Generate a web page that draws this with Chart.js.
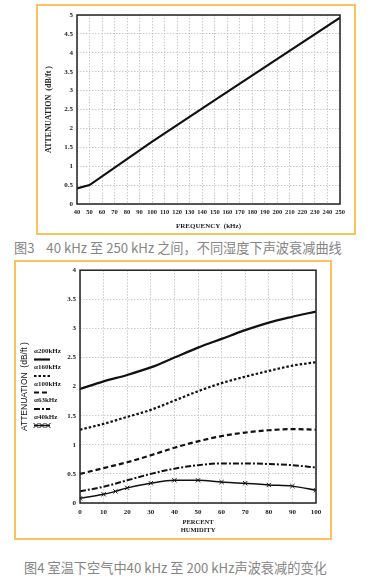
<!DOCTYPE html>
<html><head><meta charset="utf-8">
<script src="https://cdn.jsdelivr.net/npm/chart.js@4/dist/chart.umd.min.js"></script>
<style>
html,body{margin:0;padding:0;background:#fff;width:370px;height:585px;overflow:hidden;}
.box{position:absolute;border:2px solid #f8c25c;box-sizing:border-box;background:#fff;}
#box1{left:36px;top:4px;width:320px;height:231px;}
#box2{left:14px;top:260px;width:318px;height:280px;}
.cap{position:absolute;font-family:"Noto Sans CJK SC","Noto Sans";color:#858585;font-size:13.2px;line-height:16px;white-space:nowrap;}
#cap1{left:14px;top:240px;}
#cap2{left:24px;top:560px;}
canvas{position:absolute;}
#c1{left:38px;top:6px;}
#c2{left:16px;top:262px;}
</style></head>
<body>
<div class="box" id="box1"></div>
<div class="box" id="box2"></div>
<canvas id="c1" width="316" height="227"></canvas>
<canvas id="c2" width="314" height="276"></canvas>
<div class="cap" id="cap1">图3&nbsp;&nbsp;&nbsp; 40 kHz 至 250 kHz 之间，不同湿度下声波衰减曲线</div>
<div class="cap" id="cap2">图4 室温下空气中40 kHz 至 200 kHz声波衰减的变化</div>
<script>
// ---- Chart 1 data ----
const freqKHz = [40, 50, 100, 150, 200, 250];
const attenuationByFreq = [0.41, 0.5, 1.65, 2.75, 3.84, 4.93];
const freqTicks = [40,50,60,70,80,90,100,110,120,130,140,150,160,170,180,190,200,210,220,230,240,250];
const attTicks1 = [0,0.5,1,1.5,2,2.5,3,3.5,4,4.5,5];

// ---- Chart 2 data ----
const humidity = [0,10,20,30,40,50,60,70,80,90,100];
const humidity40 = [0,10,15,20,30,40,50,60,70,80,90,100];
const a200 = [1.96,2.09,2.2,2.33,2.5,2.67,2.82,2.97,3.1,3.2,3.29];
const a160 = [1.26,1.36,1.48,1.6,1.76,1.92,2.06,2.17,2.27,2.36,2.42];
const a100 = [0.5,0.6,0.7,0.82,0.95,1.06,1.15,1.21,1.25,1.27,1.26];
const a63  = [0.2,0.28,0.39,0.5,0.59,0.65,0.68,0.68,0.67,0.65,0.61];
const a40  = [0.08,0.15,0.2,0.26,0.34,0.39,0.39,0.36,0.34,0.31,0.29,0.22];
const seriesNames = ['α200kHz','α160kHz','α100kHz','α63kHz','α40kHz'];
const humidityTicks = [0,10,20,30,40,50,60,70,80,90,100];
const attTicks2 = [0,0.5,1,1.5,2,2.5,3,3.5,4];

const pts = (xs, ys) => xs.map((x,i)=>({x, y: ys[i]}));
const serif = 'Liberation Serif';
const plain = v => String(v);

const framePlugin = {
  id:'frame',
  afterDatasetsDraw(chart){
    const {ctx, chartArea:a} = chart;
    ctx.save();
    ctx.strokeStyle = '#222';
    ctx.lineWidth = 1.5;
    ctx.strokeRect(a.left, a.top, a.right-a.left, a.bottom-a.top);
    ctx.restore();
  }
};

const gridOpts = {color:'#bdbdbd', lineWidth:0.8, drawTicks:false};
const borderOpts = {display:false, dash:[1.5,1.5]};
const tickFont = {family:serif, size:7, weight:'bold'};

new Chart(document.getElementById('c1'), {
  type:'line',
  data:{datasets:[{data: pts(freqKHz, attenuationByFreq), borderColor:'#111', borderWidth:2.2, pointRadius:0, tension:0}]},
  options:{
    responsive:false, animation:false,
    layout:{padding:{top:9, right:14, left:0, bottom:0}},
    plugins:{legend:{display:false}, tooltip:{enabled:false}},
    scales:{
      x:{type:'linear', min:40, max:250,
        afterBuildTicks:s=>{s.ticks = freqTicks.map(v=>({value:v}));},
        afterFit:s=>{s.height = 29;},
        grid:{...gridOpts}, border:{...borderOpts},
        ticks:{font:{family:serif,size:6.5,weight:'bold'}, color:'#222', padding:4, maxRotation:0, autoSkip:false, callback:plain},
        title:{display:true, text:'FREQUENCY  (kHz)', font:{family:serif,size:7,weight:'bold'}, color:'#222', padding:{top:0,bottom:3}}
      },
      y:{type:'linear', min:0, max:5,
        afterBuildTicks:s=>{s.ticks = attTicks1.map(v=>({value:v}));},
        afterFit:s=>{s.width = 39;},
        grid:{...gridOpts}, border:{...borderOpts},
        ticks:{font:tickFont, color:'#222', padding:4, callback:plain},
        title:{display:true, text:'ATTENUATION  (dB/ft )', font:{family:serif,size:8,weight:'bold'}, color:'#222', padding:{top:6,bottom:0}}
      }
    }
  },
  plugins:[framePlugin]
});

const styles = [
  {borderDash:[], borderWidth:2.2, pointRadius:0},
  {borderDash:[2.5,2], borderWidth:2.2, pointRadius:0},
  {borderDash:[5,3], borderWidth:2.2, pointRadius:0},
  {borderDash:[6,2,2,2], borderWidth:2, pointRadius:0},
  {borderDash:[], borderWidth:1.5, pointRadius:3, pointStyle:'crossRot'}
];
const seriesData = [pts(humidity,a200), pts(humidity,a160), pts(humidity,a100), pts(humidity,a63), pts(humidity40,a40)];

const legendPlugin = {
  id:'sideLegend',
  afterDraw(chart){
    const ctx = chart.ctx;
    ctx.save();
    chart.data.datasets.forEach((ds,i)=>{
      const ty = 89 + i*16.5, sy = ty + 8.5;
      ctx.fillStyle = '#222';
      ctx.font = 'bold 7px "Liberation Serif"';
      ctx.textBaseline = 'middle';
      ctx.textAlign = 'left';
      ctx.fillText(ds.label, 18, ty);
      ctx.strokeStyle = '#111';
      ctx.lineWidth = ds.borderWidth;
      ctx.setLineDash(ds.borderDash || []);
      ctx.beginPath(); ctx.moveTo(18, sy); ctx.lineTo(34, sy); ctx.stroke();
      ctx.setLineDash([]);
      if (ds.pointRadius > 0) {
        ctx.lineWidth = 1;
        [20,26,32].forEach(x=>{
          ctx.beginPath();
          ctx.moveTo(x-2.5,sy-2.5); ctx.lineTo(x+2.5,sy+2.5);
          ctx.moveTo(x-2.5,sy+2.5); ctx.lineTo(x+2.5,sy-2.5);
          ctx.stroke();
        });
      }
    });
    ctx.restore();
  }
};

new Chart(document.getElementById('c2'), {
  type:'line',
  data:{datasets: seriesData.map((d,i)=>({label:seriesNames[i], data:d, borderColor:'#111', pointBorderColor:'#111', pointBorderWidth:1,
    cubicInterpolationMode:'monotone', ...styles[i]}))},
  options:{
    responsive:false, animation:false,
    layout:{padding:{top:7, right:14, left:0, bottom:0}},
    plugins:{legend:{display:false}, tooltip:{enabled:false}},
    scales:{
      x:{type:'linear', min:0, max:100,
        afterBuildTicks:s=>{s.ticks = humidityTicks.map(v=>({value:v}));},
        afterFit:s=>{s.height = 35;},
        grid:{...gridOpts}, border:{...borderOpts},
        ticks:{font:tickFont, color:'#222', padding:5, maxRotation:0, autoSkip:false, callback:plain},
        title:{display:true, text:['PERCENT','HUMIDITY'], font:{family:serif,size:6.5,weight:'bold', lineHeight:1.2}, color:'#222', padding:{top:0,bottom:4}}
      },
      y:{type:'linear', min:0, max:4,
        afterBuildTicks:s=>{s.ticks = attTicks2.map(v=>({value:v}));},
        afterFit:s=>{s.width = 64;},
        grid:{...gridOpts}, border:{...borderOpts},
        ticks:{font:tickFont, color:'#222', padding:4, callback:plain},
        title:{display:true, text:'ATTENUATION  (dB/ft )', font:{family:'Liberation Sans',size:8.5}, color:'#111', padding:{top:4,bottom:0}}
      }
    }
  },
  plugins:[framePlugin, legendPlugin]
});
</script>
</body></html>
